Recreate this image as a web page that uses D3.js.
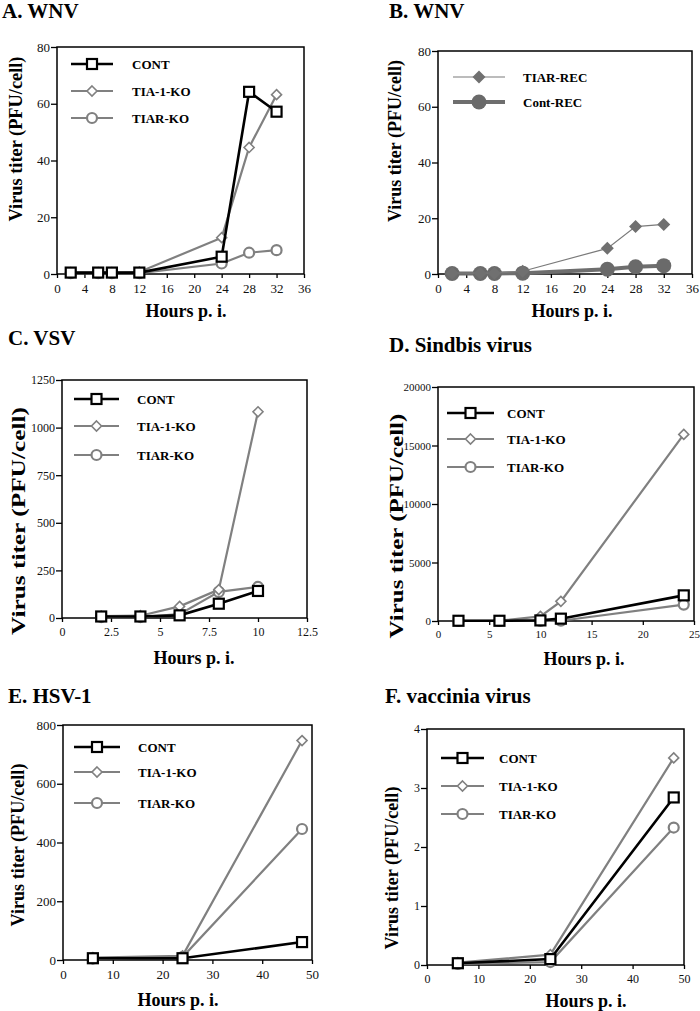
<!DOCTYPE html>
<html><head><meta charset="utf-8">
<script src="https://cdn.jsdelivr.net/npm/d3@7"></script>
<style>body{margin:0;background:#fff}svg{display:block}</style>
</head><body>
<svg id="c" width="700" height="1011"></svg>
<script>
// ---------- DATA ----------
const seriesNames = ["CONT", "TIA-1-KO", "TIAR-KO"];
const recNames = ["TIAR-REC", "Cont-REC"];

const wnvHours = [2, 6, 8, 12, 24, 28, 32];
const wnvCont = [0.5, 0.5, 0.5, 0.5, 6.1, 64.2, 57.2];
const wnvTia1 = [0.5, 0.5, 0.5, 0.7, 12.8, 44.6, 63.2];
const wnvTiar = [0.3, 0.3, 0.3, 0.3, 3.7, 7.5, 8.4];

const wnvTiarRec = [0.3, 0.3, 0.3, 1.0, 9.2, 17.0, 17.8];
const wnvContRec = [0.2, 0.2, 0.2, 0.3, 1.7, 2.6, 3.0];

const vsvHours = [2, 4, 6, 8, 10];
const vsvCont = [8, 8, 14, 75, 142];
const vsvTia1 = [10, 12, 61, 149, 1083];
const vsvTiar = [5, 5, 20, 137, 163];

const sinHours = [2, 6, 10, 12, 24];
const sinCont = [20, 20, 50, 200, 2190];
const sinTia1 = [20, 20, 400, 1680, 15950];
const sinTiar = [0, 0, 0, 20, 1400];

const hsvHours = [6, 24, 48];
const hsvCont = [6, 6, 61];
const hsvTia1 = [8, 14, 747];
const hsvTiar = [5, 10, 446];

const vacHours = [6, 24, 48];
const vacCont = [0.03, 0.1, 2.84];
const vacTia1 = [0.04, 0.175, 3.51];
const vacTiar = [0.02, 0.05, 2.33];

const wnvXTicks = [0, 4, 8, 12, 16, 20, 24, 28, 32, 36];
const wnvYTicks = [0, 20, 40, 60, 80];
const vsvXTicks = [0, 2.5, 5, 7.5, 10, 12.5];
const vsvYTicks = [0, 250, 500, 750, 1000, 1250];
const sinXTicks = [0, 5, 10, 15, 20, 25];
const sinYTicks = [0, 5000, 10000, 15000, 20000];
const hsvXTicks = [0, 10, 20, 30, 40, 50];
const hsvYTicks = [0, 200, 400, 600, 800];
const vacXTicks = [0, 10, 20, 30, 40, 50];
const vacYTicks = [0, 1, 2, 3, 4];

const titles = ["A. WNV", "B. WNV", "C. VSV", "D. Sindbis virus", "E. HSV-1", "F. vaccinia virus"];
const xLabel = "Hours p. i.";
const yLabel = "Virus titer (PFU/cell)";

// ---------- STYLE ----------
const GRAY = "#808080";
const FONT = "'Liberation Serif','Times New Roman',serif";
const styles = {
  "CONT": {shape: "square", color: "#000", lw: 2.6, size: 10, fill: "#fff", sw: 2.2},
  "TIA-1-KO": {shape: "diamond", color: GRAY, lw: 2.2, size: 5, fill: "#fff", sw: 1.6},
  "TIAR-KO": {shape: "circle", color: GRAY, lw: 2.2, size: 5, fill: "#fff", sw: 2.2},
  "TIAR-REC": {shape: "diamond", color: "#7a7a7a", lw: 1.2, size: 6.5, fill: "#707070", sw: 0},
  "Cont-REC": {shape: "circle", color: "#6e6e6e", lw: 4, size: 7.5, fill: "#6a6a6a", sw: 0}
};

const svg = d3.select("#c");

function marker(g, name, cx, cy) {
  const s = styles[name];
  let m;
  if (s.shape === "square") {
    m = g.append("rect").attr("x", cx - s.size / 2).attr("y", cy - s.size / 2)
      .attr("width", s.size).attr("height", s.size);
  } else if (s.shape === "diamond") {
    const h = s.size;
    m = g.append("path").attr("d", `M${cx},${cy - h}L${cx + h},${cy}L${cx},${cy + h}L${cx - h},${cy}Z`);
  } else {
    m = g.append("circle").attr("cx", cx).attr("cy", cy).attr("r", s.size);
  }
  m.attr("fill", s.fill).attr("stroke", s.sw ? s.color : "none").attr("stroke-width", s.sw);
}

function drawPanel(p) {
  const g = svg.append("g");
  const x = d3.scaleLinear().domain(p.xDomain).range([p.l, p.r]);
  const y = d3.scaleLinear().domain(p.yDomain).range([p.b, p.t]);

  // title
  g.append("text").attr("x", p.title[0]).attr("y", p.title[1]).text(p.titleText)
    .attr("font-family", FONT).attr("font-weight", "bold").attr("font-size", 21);

  // axes
  const xa = g.append("g").attr("transform", `translate(0,${p.b})`)
    .call(d3.axisBottom(x).tickValues(p.xTicks).tickSize(4).tickSizeOuter(0).tickFormat(d => String(d)));
  const ya = g.append("g").attr("transform", `translate(${p.l},0)`)
    .call(d3.axisLeft(y).tickValues(p.yTicks).tickSize(6).tickSizeOuter(0).tickFormat(d => String(d)));
  [xa, ya].forEach(a => {
    a.select(".domain").remove();
    a.selectAll("line").attr("stroke", "#000").attr("stroke-width", 1.3);
    a.selectAll("text").attr("font-family", FONT).attr("font-size", p.tickFont).attr("fill", "#111");
  });
  xa.selectAll("text").attr("dy", "1.0em").attr("y", 6);
  ya.selectAll("text").attr("x", -7);

  // frame
  g.append("rect").attr("x", p.l).attr("y", p.t).attr("width", p.r - p.l).attr("height", p.b - p.t)
    .attr("fill", "none").attr("stroke", "#000").attr("stroke-width", 1.5);

  // axis labels
  g.append("text").attr("x", p.xl[0]).attr("y", p.xl[1]).attr("text-anchor", "middle").text(xLabel)
    .attr("font-family", FONT).attr("font-weight", "bold").attr("font-size", 18);
  const yt = g.append("text").attr("text-anchor", "middle").text(yLabel)
    .attr("font-family", FONT).attr("font-weight", "bold").attr("font-size", 18);
  const natural = yt.node().getComputedTextLength() || p.yl[2];
  const k = p.yl[2] / natural;
  yt.attr("transform", `translate(${p.yl[0]},${p.yl[1]}) rotate(-90) scale(${k},1)`);

  // series (drawn back-to-front)
  const line = d3.line().x(d => x(d[0])).y(d => y(d[1]));
  p.series.slice().reverse().forEach(sr => {
    const s = styles[sr.name];
    const pts = p.hours.map((h, i) => [h, sr.values[i]]);
    g.append("path").attr("d", line(pts)).attr("fill", "none")
      .attr("stroke", s.color).attr("stroke-width", s.lw).attr("stroke-linejoin", "miter");
    pts.forEach(d => marker(g, sr.name, x(d[0]), y(d[1])));
  });

  // legend
  p.series.forEach((sr, i) => {
    const s = styles[sr.name];
    const ly = p.leg.rows[i];
    g.append("line").attr("x1", p.leg.x1).attr("x2", p.leg.x2).attr("y1", ly).attr("y2", ly)
      .attr("stroke", s.color).attr("stroke-width", s.lw);
    marker(g, sr.name, (p.leg.x1 + p.leg.x2) / 2, ly);
    g.append("text").attr("x", p.leg.tx).attr("y", ly).attr("dy", "0.35em").text(sr.name)
      .attr("font-family", FONT).attr("font-weight", "bold").attr("font-size", 13);
  });
}

const panels = [
  {titleText: titles[0], title: [2, 18], l: 57, r: 304, t: 47, b: 274,
   xDomain: [0, 36], yDomain: [0, 80], xTicks: wnvXTicks, yTicks: wnvYTicks, tickFont: 13,
   xl: [186, 317], yl: [22, 139, 165], hours: wnvHours,
   series: [{name: seriesNames[0], values: wnvCont}, {name: seriesNames[1], values: wnvTia1}, {name: seriesNames[2], values: wnvTiar}],
   leg: {x1: 71, x2: 113, tx: 132, rows: [64, 91, 118]}},
  {titleText: titles[1], title: [389, 18], l: 438, r: 692, t: 51, b: 274,
   xDomain: [0, 36], yDomain: [0, 80], xTicks: wnvXTicks, yTicks: wnvYTicks, tickFont: 13,
   xl: [572, 317], yl: [401, 141, 162], hours: wnvHours,
   series: [{name: recNames[0], values: wnvTiarRec}, {name: recNames[1], values: wnvContRec}],
   leg: {x1: 453, x2: 505, tx: 523, rows: [77, 102]}},
  {titleText: titles[2], title: [8, 345], l: 62, r: 307, t: 380, b: 618,
   xDomain: [0, 12.5], yDomain: [0, 1250], xTicks: vsvXTicks, yTicks: vsvYTicks, tickFont: 12,
   xl: [194, 664], yl: [25, 521, 228], hours: vsvHours,
   series: [{name: seriesNames[0], values: vsvCont}, {name: seriesNames[1], values: vsvTia1}, {name: seriesNames[2], values: vsvTiar}],
   leg: {x1: 74, x2: 119, tx: 137, rows: [399, 426, 455]}},
  {titleText: titles[3], title: [389, 352], l: 438, r: 694, t: 387, b: 621,
   xDomain: [0, 25], yDomain: [0, 20000], xTicks: sinXTicks, yTicks: sinYTicks, tickFont: 11,
   xl: [584, 665], yl: [403, 526, 225], hours: sinHours,
   series: [{name: seriesNames[0], values: sinCont}, {name: seriesNames[1], values: sinTia1}, {name: seriesNames[2], values: sinTiar}],
   leg: {x1: 447, x2: 494, tx: 507, rows: [413, 439, 467]}},
  {titleText: titles[4], title: [8, 703], l: 63, r: 312, t: 725, b: 960,
   xDomain: [0, 50], yDomain: [0, 800], xTicks: hsvXTicks, yTicks: hsvYTicks, tickFont: 13,
   xl: [178, 1006], yl: [24, 845, 163], hours: hsvHours,
   series: [{name: seriesNames[0], values: hsvCont}, {name: seriesNames[1], values: hsvTia1}, {name: seriesNames[2], values: hsvTiar}],
   leg: {x1: 74, x2: 120, tx: 138, rows: [747, 772, 803]}},
  {titleText: titles[5], title: [385, 703], l: 427, r: 684, t: 729, b: 965,
   xDomain: [0, 50], yDomain: [0, 4], xTicks: vacXTicks, yTicks: vacYTicks, tickFont: 12,
   xl: [586, 1007], yl: [398, 868, 163], hours: vacHours,
   series: [{name: seriesNames[0], values: vacCont}, {name: seriesNames[1], values: vacTia1}, {name: seriesNames[2], values: vacTiar}],
   leg: {x1: 441, x2: 484, tx: 499, rows: [758, 786, 814]}}
];

panels.forEach(drawPanel);
</script>
</body></html>
